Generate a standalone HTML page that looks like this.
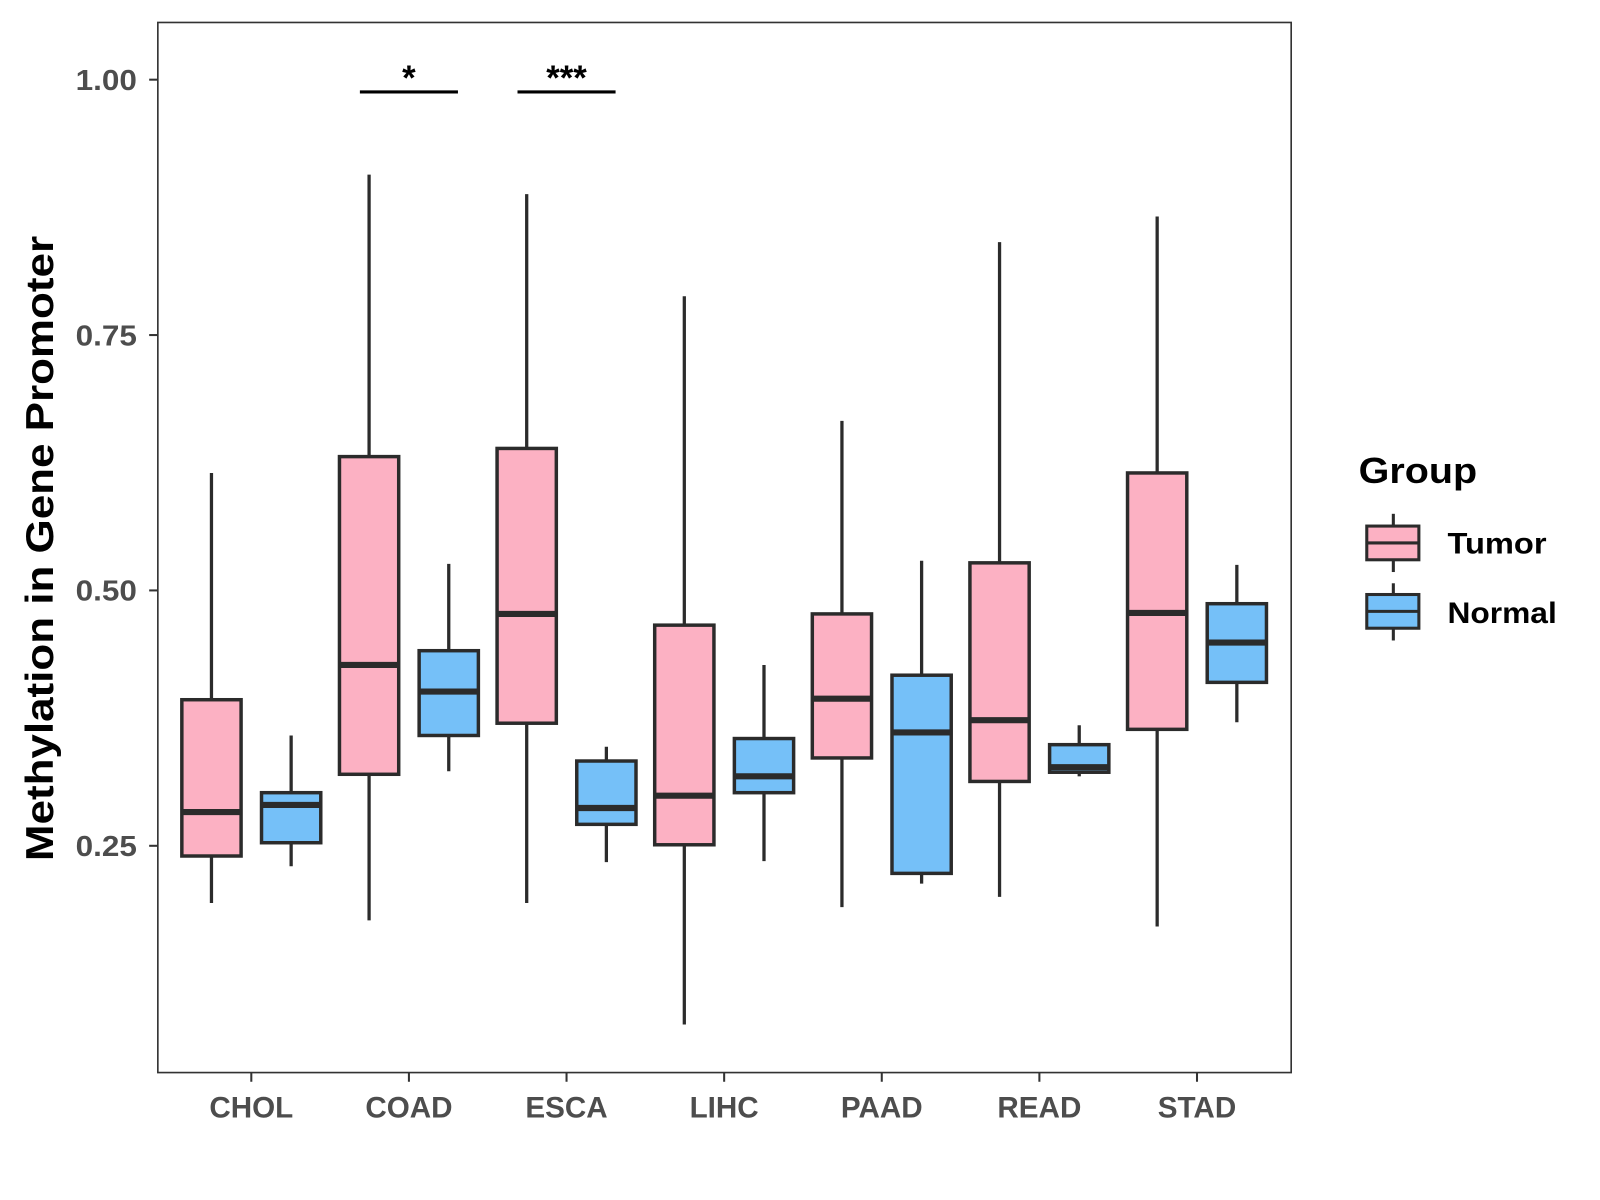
<!DOCTYPE html>
<html><head><meta charset="utf-8"><style>
html,body{margin:0;padding:0;background:#fff;}
svg{display:block;font-family:"Liberation Sans",Arial,sans-serif;}
</style></head><body>
<svg id="chart" width="1600" height="1200" viewBox="0 0 1566.3 1174.75" xmlns="http://www.w3.org/2000/svg">
<rect x="0" y="0" width="1566.3" height="1174.75" fill="#fff"/>
<g id="marks"></g>
<rect x="154.5" y="22" width="1109.5" height="1028" fill="none" stroke="#333" stroke-width="1.6"/>
<g id="axes"></g>
<text transform="translate(52,537) rotate(-90)" text-anchor="middle" font-size="38" font-weight="bold" fill="#000" textLength="612" lengthAdjust="spacingAndGlyphs">Methylation in Gene Promoter</text>
<g>
<text x="1330" y="473" font-size="35" font-weight="bold" fill="#000" textLength="116" lengthAdjust="spacingAndGlyphs">Group</text>
<g>
<line x1="1364" y1="503" x2="1364" y2="560" stroke="#2b2b2b" stroke-width="3"/>
<rect x="1338" y="515" width="51" height="33" fill="#fcb1c3" stroke="#2b2b2b" stroke-width="3"/>
<line x1="1338" y1="531.5" x2="1389" y2="531.5" stroke="#2b2b2b" stroke-width="3"/>
<text x="1417" y="542" font-size="29" font-weight="bold" fill="#000" textLength="97" lengthAdjust="spacingAndGlyphs">Tumor</text>
</g>
<g>
<line x1="1364" y1="571" x2="1364" y2="627" stroke="#2b2b2b" stroke-width="3"/>
<rect x="1338" y="582" width="51" height="33" fill="#75c0f8" stroke="#2b2b2b" stroke-width="3"/>
<line x1="1338" y1="598.5" x2="1389" y2="598.5" stroke="#2b2b2b" stroke-width="3"/>
<text x="1417" y="610" font-size="29" font-weight="bold" fill="#000" textLength="107" lengthAdjust="spacingAndGlyphs">Normal</text>
</g>
</g>
</svg>
<script>
const categories = ["CHOL","COAD","ESCA","LIHC","PAAD","READ","STAD"];
const groups = ["Tumor","Normal"];
const tumorLow    = [0.194,0.177,0.194,0.075,0.190,0.200,0.171];
const tumorQ1     = [0.240,0.320,0.370,0.251,0.336,0.313,0.364];
const tumorMedian = [0.283,0.427,0.477,0.299,0.394,0.373,0.478];
const tumorQ3     = [0.393,0.631,0.639,0.466,0.477,0.527,0.615];
const tumorHigh   = [0.615,0.907,0.888,0.788,0.666,0.841,0.866];
const normalLow    = [0.230,0.323,0.234,0.235,0.213,0.318,0.371];
const normalQ1     = [0.253,0.358,0.271,0.302,0.223,0.322,0.410];
const normalMedian = [0.290,0.401,0.287,0.318,0.361,0.327,0.449];
const normalQ3     = [0.302,0.441,0.333,0.355,0.417,0.349,0.487];
const normalHigh   = [0.358,0.526,0.347,0.427,0.529,0.368,0.525];
const yTicks = [0.25,0.50,0.75,1.00];
const yTickLabels = ["0.25","0.50","0.75","1.00"];
const sigCategories = ["COAD","ESCA"];
const sigLabels = ["*","***"];
const sigLevel = 0.988;

const NS="http://www.w3.org/2000/svg";
function yScale(v){ return 78 + (1 - v) * 1000; }
function xScale(i){ return 246 + i * 154.3; }
function mk(tag, attrs, parent){ const e=document.createElementNS(NS,tag); for(const k in attrs) e.setAttribute(k,attrs[k]); parent.appendChild(e); return e; }
const marks=document.getElementById('marks');
const axes=document.getElementById('axes');
const series=[
 {name:"tumor",fill:"#fcb1c3",off:-39,lo:tumorLow,q1:tumorQ1,md:tumorMedian,q3:tumorQ3,hi:tumorHigh},
 {name:"normal",fill:"#75c0f8",off:39,lo:normalLow,q1:normalQ1,md:normalMedian,q3:normalQ3,hi:normalHigh}
];
const bw=58;
series.forEach(s=>{
  categories.forEach((c,i)=>{
    const cx=xScale(i)+s.off;
    const g=mk('g',{},marks);
    
    
    mk('line',{x1:cx,x2:cx,y1:yScale(s.hi[i]),y2:yScale(s.lo[i]),stroke:"#2b2b2b","stroke-width":3.2},g);
    mk('rect',{x:cx-bw/2,y:yScale(s.q3[i]),width:bw,height:yScale(s.q1[i])-yScale(s.q3[i]),fill:s.fill,stroke:"#2b2b2b","stroke-width":3.4},g);
    mk('line',{x1:cx-bw/2,x2:cx+bw/2,y1:yScale(s.md[i]),y2:yScale(s.md[i]),stroke:"#2b2b2b","stroke-width":6},g);
  });
});
yTicks.forEach((v,i)=>{
  const y=yScale(v);
  const t=mk('line',{x1:146,x2:154.5,y1:y,y2:y,stroke:"#333","stroke-width":2},axes);
  
  
  const l=mk('text',{x:134,y:y+10,"text-anchor":"end","font-size":28,"font-weight":"bold",fill:"#4d4d4d",textLength:60,lengthAdjust:"spacingAndGlyphs"},axes);
  l.textContent=yTickLabels[i];
  
  
});
categories.forEach((c,i)=>{
  const x=xScale(i);
  const t=mk('line',{x1:x,x2:x,y1:1050,y2:1059,stroke:"#333","stroke-width":2},axes);
  
  
  const l=mk('text',{x:x,y:1094,"text-anchor":"middle","font-size":29,"font-weight":"bold",fill:"#4d4d4d"},axes);
  l.textContent=c;
  
  
});
sigCategories.forEach((c,j)=>{
  const i=categories.indexOf(c);
  const x=xScale(i);
  const y=yScale(sigLevel);
  const g=mk('g',{},marks);
  
  
  mk('line',{x1:x-48,x2:x+48,y1:y,y2:y,stroke:"#000","stroke-width":3},g);
  const t=mk('text',{x:x,y:y-2,"text-anchor":"middle","font-size":34,"font-weight":"bold",fill:"#000"},g);
  t.textContent=sigLabels[j];
});
</script>
</body></html>
